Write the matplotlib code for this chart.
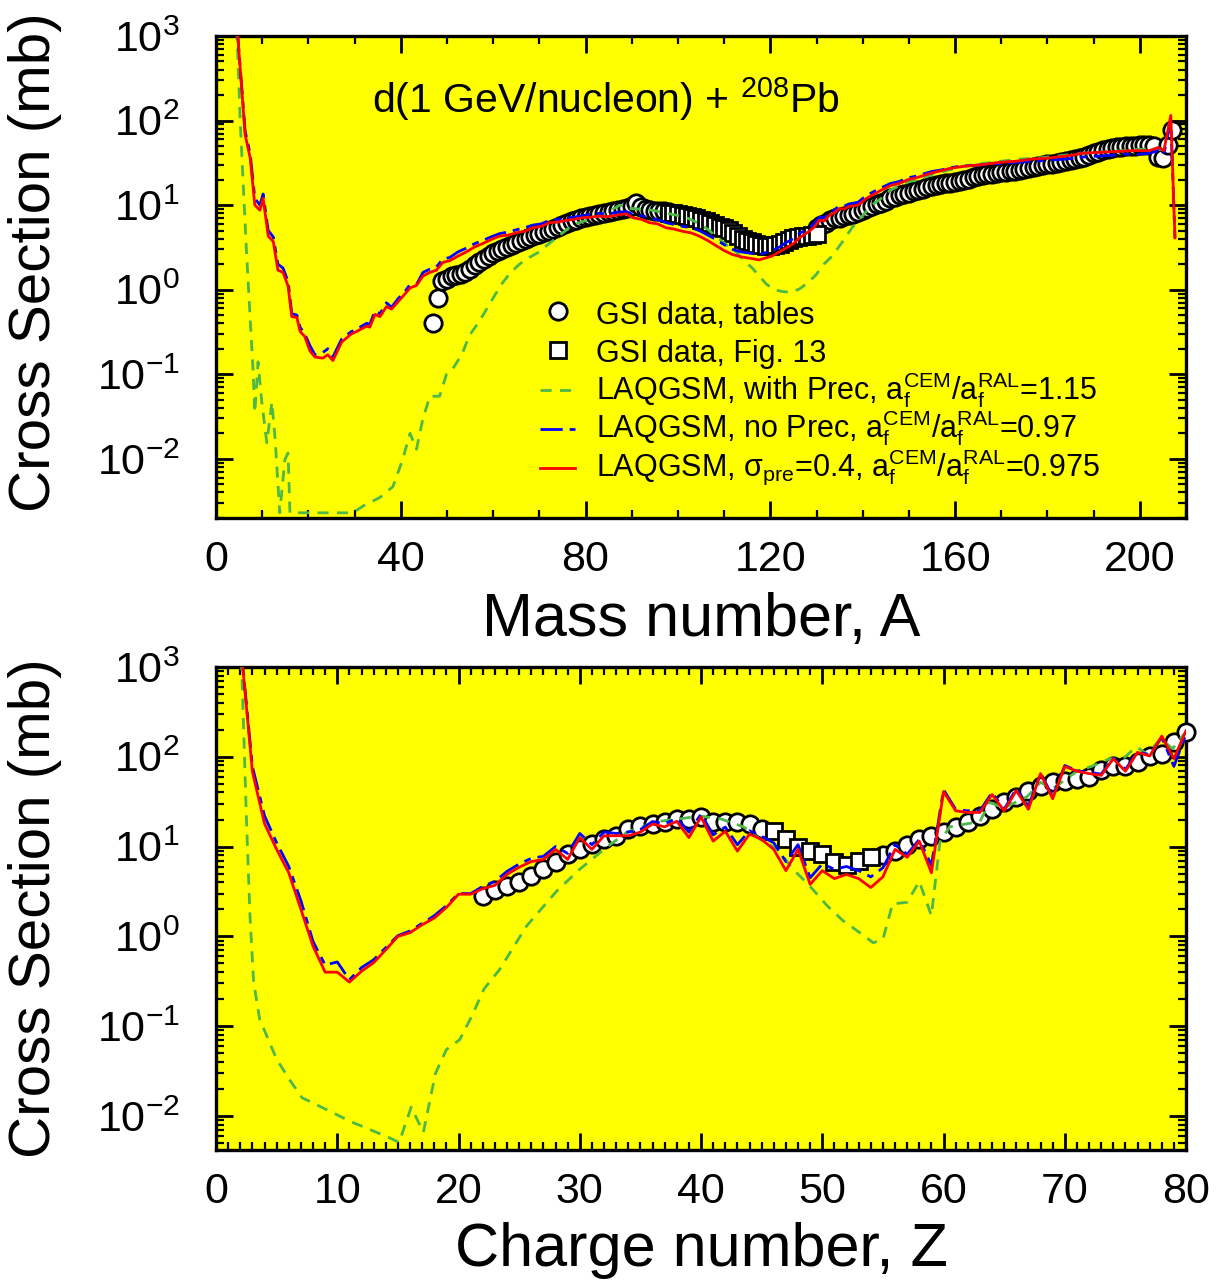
import numpy as np
import matplotlib
matplotlib.use('Agg')
import matplotlib.pyplot as plt
from matplotlib.ticker import MultipleLocator, LogLocator, NullFormatter

plt.rcParams['font.family'] = ['Liberation Sans', 'DejaVu Sans']
plt.rcParams['mathtext.fontset'] = 'custom'
plt.rcParams['mathtext.rm'] = 'Liberation Sans'
plt.rcParams['mathtext.it'] = 'Liberation Sans:italic'
plt.rcParams['mathtext.bf'] = 'Liberation Sans:bold'
plt.rcParams['mathtext.sf'] = 'Liberation Sans'

# ---------------- top panel: mass distribution ----------------
A_model = [4.6, 6.3, 7.4, 8.4, 9.5, 10.2, 11.3, 12.4, 13.4, 14.5,
           15.6, 16.4, 17.5, 18.2, 19.2, 20.3, 21.4, 23.1, 24.2, 25.3,
           27.2, 29.3, 30.4, 32.6, 33.3, 34.4, 35.5, 36.9, 38.0, 39.4,
           40.9, 42.0, 43.4, 44.8, 46.3, 47.7, 49.1, 50.6, 52.4, 54.2,
           56.0, 57.7, 59.5, 61.4, 63.2, 65.0, 66.8, 68.6, 70.4, 72.2,
           74.0, 75.8, 77.6, 79.4, 81.2, 83.0, 84.8, 86.7, 88.8, 90.2,
           92.0, 93.8, 95.6, 97.4, 99.2, 101.0, 102.8, 104.6, 106.5, 108.3,
           110.0, 111.8, 113.6, 115.5, 117.6, 120.4, 122.0, 123.4, 125.0, 126.3,
           128.4, 129.5, 130.6, 131.7, 132.8, 133.9, 134.9, 136.0, 137.0, 139.0,
           140.8, 142.5, 144.0, 146.0, 147.9, 149.8, 151.6, 153.3, 155.0, 157.0,
           158.7, 160.5, 162.4, 164.0, 165.8, 167.6, 169.5, 171.4, 173.2, 175.0,
           176.6, 178.5, 180.3, 182.0, 184.0, 186.0, 187.5, 189.4, 191.2, 193.0,
           194.8, 196.5, 198.3, 200.0, 202.0, 204.0, 205.2, 206.7, 207.6]

A_red = [1200, 68, 36, 10, 8.7, 12, 4.3, 3.7, 1.7, 1.6,
         1.1, 0.48, 0.47, 0.32, 0.28, 0.19, 0.16, 0.155, 0.17, 0.145,
         0.24, 0.30, 0.32, 0.37, 0.36, 0.51, 0.48, 0.63, 0.59, 0.72,
         0.89, 1.05, 1.12, 1.45, 1.6, 1.7, 2.1, 2.2, 2.5, 2.8,
         3.2, 3.5, 3.9, 4.3, 4.4, 4.7, 4.9, 5.4, 5.6, 6.2,
         6.3, 6.6, 6.8, 7.1, 7.2, 7.4, 7.3, 7.6, 7.9, 7.1,
         6.8, 6.2, 6.0, 5.4, 5.2, 4.9, 4.7, 4.3, 3.8, 3.3,
         2.9, 2.6, 2.45, 2.35, 2.25, 2.5, 2.8, 3.1, 3.5, 4.1,
         4.9, 5.5, 6.6, 6.5, 7.6, 8.1, 9.1, 9.0, 9.6, 10.0,
         12, 13.5, 15, 17, 18, 20, 21, 22.5, 24, 25.5,
         27, 28, 29, 29.5, 30, 31, 32, 32.5, 33, 34,
         35, 35.5, 36, 37, 38, 39.5, 41, 41.5, 42, 42.5,
         43, 43.5, 44, 44, 44, 48, 44, 115, 4.1]

A_blue = [1200, 75, 40, 12, 10, 13.5, 5.0, 4.2, 2.0, 1.8,
          1.25, 0.52, 0.5, 0.36, 0.3, 0.22, 0.17, 0.18, 0.2, 0.16,
          0.26, 0.32, 0.34, 0.40, 0.39, 0.56, 0.52, 0.70, 0.62, 0.78,
          0.95, 1.15, 1.15, 1.6, 1.75, 1.85, 2.3, 2.4, 2.8, 3.1,
          3.5, 3.8, 4.2, 4.6, 4.8, 5.1, 5.4, 5.8, 6.0, 6.6,
          6.8, 7.0, 7.2, 7.5, 7.8, 8.0, 7.8, 8.2, 8.4, 7.8,
          7.5, 7.0, 6.7, 6.2, 5.9, 5.6, 5.4, 5.0, 4.4, 3.9,
          3.4, 3.0, 2.8, 2.7, 2.6, 2.9, 3.2, 3.6, 4.0, 4.6,
          5.4, 6.0, 7.2, 7.1, 8.3, 8.8, 9.8, 9.7, 10.3, 10.8,
          13, 14.5, 16, 18, 19, 21, 22, 23.5, 25, 26,
          27.5, 28.5, 29, 29.5, 30, 30.5, 31, 31.5, 32, 32.5,
          33, 33.5, 34, 34.5, 35, 36, 37, 37.5, 38, 38.5,
          39, 40, 40, 40, 41, 44, 40, 100, 4.1]

A_green = [4.5, 5.2, 5.9, 6.6, 7.4, 8.0, 8.4, 9.1, 9.9, 11.0,
           12.1, 12.8, 13.8, 14.9, 15.6, 16.0, 20.0, 25.0, 29.6, 32.0,
           35.5, 38.3, 40.4, 42.0, 43.4, 44.8, 46.3, 48.4, 49.9, 51.2,
           53.2, 54.9, 56.7, 58.6, 60.3, 62.0, 63.8, 65.7, 67.8, 70.0,
           71.8, 73.7, 75.5, 77.2, 78.7, 80.2, 82.3, 84.5, 86.0, 87.4,
           88.8, 90.2, 92.4, 94.5, 97.0, 99.7, 101.4, 103.1, 105.0, 106.8,
           108.2, 109.6, 111.1, 112.6, 114.3, 116.1, 117.6, 119.1, 120.8, 122.6,
           124.5, 126.3, 128.1, 129.9, 131.6, 133.4, 135.5, 137.7, 140.0, 142.0,
           144.0, 146.0, 148.0, 150.0, 151.6, 155.0, 158.7, 162.0, 166.0, 170.0,
           174.0, 178.0, 182.0, 186.0, 190.0, 194.0, 198.0, 202.0, 205.0, 206.0]

A_green_sig = [1200, 110, 17, 2.8, 0.45, 0.115, 0.035, 0.14, 0.047, 0.0155,
               0.047, 0.017, 0.0023, 0.0098, 0.0117, 0.0023, 0.0023, 0.0023, 0.0023, 0.0028,
               0.0035, 0.0047, 0.0098, 0.020, 0.013, 0.030, 0.055, 0.055, 0.10, 0.115,
               0.17, 0.29, 0.40, 0.59, 0.85, 1.2, 1.6, 2.0, 2.4, 2.8,
               3.4, 4.1, 4.9, 5.8, 6.2, 6.6, 7.3, 7.9, 9.0, 10.0,
               9.1, 9.1, 8.9, 8.7, 8.1, 7.6, 7.3, 6.6, 5.9, 5.0,
               4.3, 3.7, 3.2, 2.8, 2.2, 1.8, 1.45, 1.17, 1.0, 0.95,
               0.93, 1.02, 1.2, 1.5, 2.0, 2.5, 3.6, 5.4, 7.5, 10,
               12, 15, 17, 19, 19.5, 23, 26, 29, 31, 33,
               35, 36, 38, 40, 42, 43, 45, 46, 45, 46]

# GSI data, tables (circles)
A_tab = list(range(47, 99)) + list(range(130, 208))
A_tab_sig = [0.40, 0.80, 1.25, 1.35, 1.45, 1.5, 1.55, 1.6, 1.75, 1.95,
             2.1, 2.3, 2.5, 2.7, 2.85, 3.0, 3.2, 3.4, 3.6, 3.8,
             4.0, 4.2, 4.4, 4.6, 4.8, 5.0, 5.2, 5.5, 5.8, 6.1,
             6.4, 6.7, 7.0, 7.2, 7.5, 7.7, 7.9, 8.1, 8.3, 8.5,
             8.7, 8.9, 9.3, 9.8, 10.5, 9.5, 9.0, 8.7, 8.6, 8.5,
             8.4, 8.3,
             5.4, 5.8, 6.2, 6.6, 7.0, 7.1, 7.4, 7.6, 7.9, 8.3,
             8.7, 9.2, 9.7, 10.2, 10.6, 11.3, 12.0, 12.6, 13.0, 13.5,
             14.0, 14.6, 15.1, 15.6, 16.3, 17.0, 17.5, 17.8, 18.1, 18.4,
             19.0, 19.5, 20.0, 20.6, 21.3, 22.0, 22.6, 23.2, 23.6, 24.0,
             24.5, 24.8, 25.0, 25.2, 25.8, 26.5, 27.2, 28.0, 28.8, 29.5,
             30.2, 31.0, 31.8, 32.5, 33.2, 34.2, 35.5, 36.5, 37.5, 39.0,
             41.0, 43.0, 44.5, 46.0, 47.0, 48.0, 49.0, 49.5, 50.0, 50.5,
             51.0, 51.5, 51.0, 50.0, 37.0, 36.0, 52.0, 78.0]

# GSI data, Fig. 13 (squares)
A_fig = list(range(98, 131))
A_fig_sig = [8.0, 8.0, 7.9, 7.7, 7.5, 7.3, 7.0, 6.7, 6.4, 6.1,
             5.8, 5.5, 5.3, 5.1, 4.7, 4.3, 4.0, 3.8, 3.7, 3.5,
             3.4, 3.3, 3.3, 3.4, 3.5, 3.7, 3.9, 4.1, 4.2, 4.3,
             4.3, 4.4, 4.6]

# ---------------- bottom panel: charge distribution ----------------
Z_model = list(range(2, 81))
Z_red = [2000, 68, 18, 9.3, 5.1, 2.0, 0.78, 0.40, 0.40, 0.31,
         0.41, 0.51, 0.71, 1.0, 1.1, 1.35, 1.6, 2.1, 2.95, 2.95,
         3.4, 3.7, 4.9, 5.9, 6.8, 7.2, 9.3, 7.2, 12.6, 9.3,
         13.2, 13.2, 13.2, 14.5, 17.8, 16.6, 19.1, 12.6, 21.4, 11.5,
         14.8, 8.9, 13.8, 12.0, 9.3, 5.4, 9.3, 3.8, 5.4, 4.4,
         4.9, 4.4, 3.5, 4.6, 9.3, 7.6, 11.5, 5.1, 41, 25,
         24, 24, 38, 25, 42, 26, 65, 34, 78, 69,
         65, 62, 95, 69, 112, 102, 170, 95, 195]

Z_blue = [2000, 78, 22, 11, 6.0, 2.5, 0.88, 0.48, 0.52, 0.33,
          0.45, 0.55, 0.75, 1.02, 1.15, 1.4, 1.7, 2.2, 3.0, 3.0,
          3.6, 4.1, 5.3, 6.4, 7.4, 7.8, 10.0, 8.4, 14.0, 10.5,
          14.5, 14.0, 14.5, 15.5, 19.0, 18.0, 20.5, 14.5, 23.0, 13.5,
          16.5, 10.5, 15.0, 13.0, 11.0, 6.8, 10.5, 4.5, 6.4, 5.6,
          6.0, 5.4, 4.6, 5.8, 10.5, 8.2, 12.0, 6.2, 43, 26,
          25, 25, 40, 26, 44, 28, 66, 36, 80, 70,
          67, 64, 97, 72, 115, 104, 165, 78, 180]

Z_green = [2.1, 2.5, 2.8, 3.1, 3.6, 5.0, 6.1, 7.1, 8.0, 11.1,
           14.1, 15.1, 16.1, 17.1, 18.1, 19.0, 20.1, 21.1, 22.1, 23.4,
           25.6, 28.1, 30.0, 32.2, 33.9, 36.4, 38.3, 39.9, 41.6, 43.5,
           44.9, 46.3, 47.6, 49.0, 50.4, 51.7, 53.1, 54.2, 55.0, 55.8,
           57.0, 58.0, 59.0, 59.7, 60.5, 62.0, 63.0, 63.8, 65.0, 66.9,
           68.0, 69.0, 71.0, 72.3, 73.7, 74.8, 75.9, 76.8, 77.9, 78.9,
           80.0]
Z_green_sig = [1200, 22, 1.7, 0.31, 0.12, 0.043, 0.025, 0.016, 0.014, 0.0087,
               0.0059, 0.0051, 0.0126, 0.0066, 0.030, 0.055, 0.071, 0.13, 0.26, 0.43,
               1.3, 3.2, 5.6, 9.8, 14.5, 19, 20.4, 21.9, 20.4, 16.6,
               12, 9.3, 5.6, 3.6, 2.2, 1.5, 1.1, 0.85, 0.93, 2.3,
               2.4, 4.1, 1.7, 11.2, 16.6, 18, 19, 31, 27, 36,
               52, 44, 69, 79, 95, 95, 129, 107, 158, 123,
               190]

Z_tab = list(range(22, 46)) + list(range(55, 81))
Z_tab_sig = [2.8, 3.3, 3.6, 4.0, 4.7, 5.6, 6.8, 8.3, 9.3, 10.7,
             12.0, 13.2, 15.5, 17.0, 17.8, 19.0, 20.4, 20.4, 21.4, 19.0,
             19.0, 18.6, 17.8, 15.5,
             8.0, 9.0, 10.5, 12.0, 13.2, 14.5, 16.6, 19.0, 21.9, 26.3,
             31, 36, 42, 47, 52, 54, 56, 59, 72, 79,
             78, 87, 102, 107, 145, 190]

Z_fig = list(range(46, 55))
Z_fig_sig = [14.8, 12.0, 10.0, 8.9, 8.3, 6.8, 6.3, 6.9, 7.6]

GREEN = '#4cb848'
labels = ['GSI data, tables',
          'GSI data, Fig. 13',
          r'LAQGSM, with Prec, a$_{\rm f}^{\rm CEM}$/a$_{\rm f}^{\rm RAL}$=1.15',
          r'LAQGSM, no Prec, a$_{\rm f}^{\rm CEM}$/a$_{\rm f}^{\rm RAL}$=0.97',
          r'LAQGSM, σ$_{\rm pre}$=0.4, a$_{\rm f}^{\rm CEM}$/a$_{\rm f}^{\rm RAL}$=0.975']


def style(ax, xmax, xmaj, xmin, ymin):
    ax.set_facecolor('#ffff00')
    ax.set_yscale('log')
    ax.set_xlim(0, xmax)
    ax.set_ylim(ymin, 1e3)
    ax.xaxis.set_major_locator(MultipleLocator(xmaj))
    ax.xaxis.set_minor_locator(MultipleLocator(xmin))
    ax.yaxis.set_major_locator(LogLocator(10, numticks=20))
    ax.yaxis.set_minor_locator(LogLocator(10, subs=np.arange(2, 10), numticks=20))
    ax.yaxis.set_minor_formatter(NullFormatter())
    ax.tick_params(which='both', direction='in', top=True, right=True)
    ax.tick_params(which='major', length=12, width=2)
    ax.tick_params(which='minor', length=6, width=1.6)
    ax.tick_params(axis='x', which='major', labelsize=31, pad=16)
    ax.tick_params(axis='y', which='major', labelsize=31, pad=26)
    for s in ax.spines.values():
        s.set_linewidth(2.4)


def draw(ax, xt, yt, xf, yf, xg, yg, xm, yr, yb):
    h1, = ax.plot(xt, yt, 'o', ms=12.5, mfc='white', mec='black', mew=2, clip_on=False, zorder=3)
    h2, = ax.plot(xf, yf, 's', ms=11, mfc='white', mec='black', mew=2, clip_on=False, zorder=3)
    h3, = ax.plot(xg, yg, color=GREEN, lw=2, ls=(0, (4, 3)), zorder=4)
    h4, = ax.plot(xm, yb, color='#0000ff', lw=2, ls=(0, (8, 2.5, 2.5, 2.5)), zorder=5)
    h5, = ax.plot(xm, yr, color='#ff0000', lw=2, zorder=6)
    return [h1, h2, h3, h4, h5]


fig = plt.figure(figsize=(12.26, 12.83), dpi=100)
ax1 = fig.add_axes([0.1762, 0.5963, 0.7912, 0.3757])
ax2 = fig.add_axes([0.1762, 0.1037, 0.7912, 0.3765])

style(ax1, 210, 40, 10, 0.002)
style(ax2, 80, 10, 1, 0.0042)

handles = draw(ax1, A_tab, A_tab_sig, A_fig, A_fig_sig, A_green, A_green_sig, A_model, A_red, A_blue)
draw(ax2, Z_tab, Z_tab_sig, Z_fig, Z_fig_sig, Z_green, Z_green_sig, Z_model, Z_red, Z_blue)

ax1.text(0.161, 0.840, r'd(1 GeV/nucleon) + $^{208}$Pb', transform=ax1.transAxes,
         fontsize=29.5, va='baseline', ha='left')

# legend keys in evenly spaced rows, label texts set beside them
ax1.legend(handles, [' '] * 5, loc='upper left', bbox_to_anchor=(0.334, 0.4544),
           frameon=False, fontsize=22, handlelength=1.15, handletextpad=0.5,
           labelspacing=0.3, borderpad=0, borderaxespad=0)
for i, lab in enumerate(labels):
    ax1.text(0.3918, 0.4025 - i * 0.0788, lab, transform=ax1.transAxes,
             fontsize=22, ha='left', va='baseline')

ax1.set_xlabel('Mass number, A', fontsize=44)
ax1.set_ylabel('Cross Section (mb)', fontsize=42)
ax2.set_xlabel('Charge number, Z', fontsize=44)
ax2.set_ylabel('Cross Section (mb)', fontsize=42)
ax1.xaxis.set_label_coords(0.5, -0.153)
ax2.xaxis.set_label_coords(0.5, -0.149)
ax1.yaxis.set_label_coords(-0.159, 0.53)
ax2.yaxis.set_label_coords(-0.159, 0.5)

fig.savefig('out.png', dpi=100)
